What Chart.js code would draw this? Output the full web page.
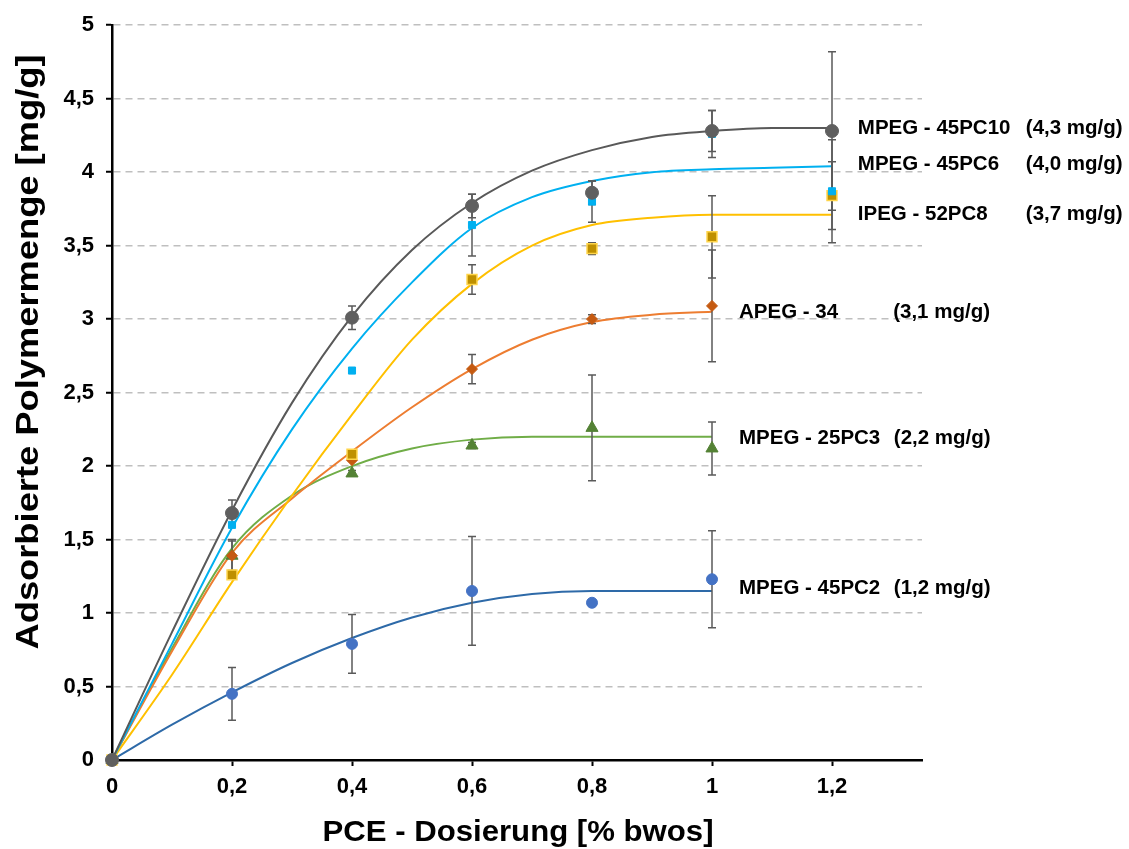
<!DOCTYPE html>
<html>
<head>
<meta charset="utf-8">
<script src="https://cdn.jsdelivr.net/npm/chart.js@4.4.0/dist/chart.umd.min.js"></script>
<style>
  html, body { margin: 0; padding: 0; background: #fff; }
</style>
</head>
<body>
<canvas id="chart" width="1129" height="849"></canvas>
<script>
// Dosierung der Messpunkte [% bwos]
const dosage = [0, 0.2, 0.4, 0.6, 0.8, 1.0, 1.2];
const dosageShort = [0, 0.2, 0.4, 0.6, 0.8, 1.0];
// Stuetzstellen der Ausgleichskurven
const curveX = [0, 0.1, 0.2, 0.3, 0.4, 0.5, 0.6, 0.7, 0.8, 0.9, 1.0, 1.1, 1.2];
const curveXShort = [0, 0.1, 0.2, 0.3, 0.4, 0.5, 0.6, 0.7, 0.8, 0.9, 1.0];

// Messwerte und Standardabweichung [mg/g]
const mpeg45pc10 = [0, 1.68, 3.01, 3.77, 3.86, 4.28, 4.28];
const mpeg45pc10Err = [0, 0.09, 0.08, 0.08, 0.08, 0.14, 0.54];
const mpeg45pc6 = [0, 1.60, 2.65, 3.64, 3.80, 4.26, 3.87];
const mpeg45pc6Err = [0, 0, 0, 0.21, 0.14, 0.16, 0.35];
const ipeg52pc8 = [0, 1.26, 2.08, 3.27, 3.48, 3.56, 3.84];
const ipeg52pc8Err = [0, 0, 0.02, 0.10, 0.04, 0.28, 0.23];
const apeg34 = [0, 1.39, 2.04, 2.66, 3.00, 3.09];
const apeg34Err = [0, 0.10, 0, 0.10, 0.03, 0.38];
const mpeg25pc3 = [0, 1.39, 1.95, 2.14, 2.26, 2.12];
const mpeg25pc3Err = [0, 0.11, 0.02, 0.02, 0.36, 0.18];
const mpeg45pc2 = [0, 0.45, 0.79, 1.15, 1.07, 1.23];
const mpeg45pc2Err = [0, 0.18, 0.20, 0.37, 0, 0.33];

// Ausgleichskurven
const fit45pc10 = [0, 0.87, 1.70, 2.43, 3.02, 3.47, 3.79, 4.01, 4.15, 4.24, 4.28, 4.30, 4.30];
const fit45pc6 = [0, 0.79, 1.58, 2.25, 2.80, 3.25, 3.62, 3.83, 3.94, 4.00, 4.02, 4.03, 4.04];
const fit52pc8 = [0, 0.58, 1.21, 1.80, 2.35, 2.86, 3.24, 3.50, 3.64, 3.69, 3.71, 3.71, 3.71];
const fitApeg34 = [0, 0.74, 1.41, 1.78, 2.10, 2.40, 2.66, 2.86, 2.98, 3.03, 3.05];
const fit25pc3 = [0, 0.76, 1.44, 1.80, 2.00, 2.12, 2.18, 2.20, 2.20, 2.20, 2.20];
const fit45pc2 = [0, 0.24, 0.46, 0.66, 0.83, 0.97, 1.07, 1.13, 1.15, 1.15, 1.15];

const xTickLabels = ['0', '0,2', '0,4', '0,6', '0,8', '1', '1,2'];
const yTickLabels = ['0', '0,5', '1', '1,5', '2', '2,5', '3', '3,5', '4', '4,5', '5'];

const seriesNames = ['MPEG - 45PC10', 'MPEG - 45PC6', 'IPEG - 52PC8', 'APEG - 34', 'MPEG - 25PC3', 'MPEG - 45PC2'];
const seriesAmounts = ['(4,3 mg/g)', '(4,0 mg/g)', '(3,7 mg/g)', '(3,1 mg/g)', '(2,2 mg/g)', '(1,2 mg/g)'];

const FONT = '"Liberation Sans", Arial, sans-serif';

const pts = (xs, ys) => ys.map((v, i) => ({ x: xs[i], y: v }));

function markerSet(label, ys, errs, xs, style) {
  return {
    type: 'scatter', label, data: pts(xs, ys), errors: errs, order: 1, clip: false,
    showLine: false, ...style
  };
}
function curveSet(label, ys, xs, color) {
  return {
    type: 'line', label, data: pts(xs, ys), order: 2, borderColor: color, borderWidth: 2,
    pointRadius: 0, cubicInterpolationMode: 'monotone', fill: false
  };
}

const datasets = [
  markerSet('MPEG - 45PC10', mpeg45pc10, mpeg45pc10Err, dosage,
    { pointStyle: 'circle', pointRadius: 6.5, backgroundColor: '#5f5f5f', borderColor: '#5f5f5f' }),
  markerSet('MPEG - 45PC6', mpeg45pc6, mpeg45pc6Err, dosage,
    { pointStyle: 'rect', pointRadius: 5, backgroundColor: '#00b0f0', borderColor: '#00b0f0' }),
  markerSet('IPEG - 52PC8', ipeg52pc8, ipeg52pc8Err, dosage,
    { pointStyle: 'rect', pointRadius: 7, backgroundColor: '#bf9000', borderColor: '#ffd54a', borderWidth: 1.5 }),
  markerSet('APEG - 34', apeg34, apeg34Err, dosageShort,
    { pointStyle: 'rectRot', pointRadius: 5.5, backgroundColor: '#c55a11', borderColor: '#c55a11' }),
  markerSet('MPEG - 25PC3', mpeg25pc3, mpeg25pc3Err, dosageShort,
    { pointStyle: 'triangle', pointRadius: 7, backgroundColor: '#548235', borderColor: '#548235' }),
  markerSet('MPEG - 45PC2', mpeg45pc2, mpeg45pc2Err, dosageShort,
    { pointStyle: 'circle', pointRadius: 5.5, backgroundColor: '#4472c4', borderColor: '#4472c4' }),
  curveSet('Fit 45PC10', fit45pc10, curveX, '#595959'),
  curveSet('Fit 45PC6', fit45pc6, curveX, '#00b0f0'),
  curveSet('Fit 52PC8', fit52pc8, curveX, '#ffc000'),
  curveSet('Fit APEG34', fitApeg34, curveXShort, '#ed7d31'),
  curveSet('Fit 25PC3', fit25pc3, curveXShort, '#70ad47'),
  curveSet('Fit 45PC2', fit45pc2, curveXShort, '#2e6aa8')
];

// Position der Beschriftungen (Datenkoordinaten)
const labelPos = [
  { x: 1.243, ax: 1.523, y: 4.30 },
  { x: 1.243, ax: 1.523, y: 4.05 },
  { x: 1.243, ax: 1.523, y: 3.71 },
  { x: 1.045, ax: 1.302, y: 3.045 },
  { x: 1.045, ax: 1.303, y: 2.19 },
  { x: 1.045, ax: 1.303, y: 1.165 }
];

// Fehlerbalken: nach den Kurven, vor den Markern zeichnen
let errorsDrawn = false;
const errorBars = {
  id: 'errorBars',
  beforeDatasetsDraw() { errorsDrawn = false; },
  beforeDatasetDraw(chart, args) {
    const ds = chart.data.datasets[args.index];
    if (errorsDrawn || !ds.errors) return;
    errorsDrawn = true;
    const { ctx, scales: { x, y } } = chart;
    ctx.save();
    ctx.strokeStyle = '#5a5a5a';
    ctx.lineWidth = 1.5;
    chart.data.datasets.forEach(set => {
      if (!set.errors) return;
      set.data.forEach((p, i) => {
        const e = set.errors[i];
        if (!e) return;
        const px = x.getPixelForValue(p.x);
        const top = y.getPixelForValue(p.y + e);
        const bot = y.getPixelForValue(p.y - e);
        ctx.beginPath();
        ctx.moveTo(px, top); ctx.lineTo(px, bot);
        ctx.moveTo(px - 4, top); ctx.lineTo(px + 4, top);
        ctx.moveTo(px - 4, bot); ctx.lineTo(px + 4, bot);
        ctx.stroke();
      });
    });
    ctx.restore();
  }
};

// gestreckter Text wie in der Vorlage
function stretchedText(ctx, text, cx, cy, width) {
  const w = ctx.measureText(text).width;
  ctx.save();
  ctx.translate(cx, cy);
  ctx.scale(width / w, 1);
  ctx.fillText(text, 0, 0);
  ctx.restore();
}

const textPlugin = {
  id: 'texts',
  afterDraw(chart) {
    const { ctx, scales: { x, y } } = chart;
    ctx.save();
    ctx.fillStyle = '#000';
    ctx.textBaseline = 'middle';
    ctx.textAlign = 'left';
    ctx.font = 'bold 20.5px ' + FONT;
    seriesNames.forEach((name, i) => {
      const p = labelPos[i];
      const py = y.getPixelForValue(p.y);
      ctx.fillText(name, x.getPixelForValue(p.x), py);
      ctx.fillText(seriesAmounts[i], x.getPixelForValue(p.ax), py);
    });
    // Achsentitel
    ctx.textAlign = 'center';
    ctx.font = 'bold 30px ' + FONT;
    stretchedText(ctx, 'PCE - Dosierung [% bwos]', 518, 833, 391);
    ctx.translate(29, 352);
    ctx.rotate(-Math.PI / 2);
    ctx.font = 'bold 32px ' + FONT;
    stretchedText(ctx, 'Adsorbierte Polymermenge [mg/g]', 0, 0, 595);
    ctx.restore();
  }
};

const tickFont = { family: FONT, size: 22, weight: 'bold' };

new Chart(document.getElementById('chart'), {
  type: 'scatter',
  data: { datasets },
  options: {
    responsive: false,
    animation: false,
    layout: { padding: { left: 0, top: 21, right: 207, bottom: 0 } },
    plugins: { legend: { display: false }, tooltip: { enabled: false } },
    scales: {
      x: {
        type: 'linear', min: 0, max: 1.35,
        afterFit: s => { s.height = 89; },
        ticks: {
          stepSize: 0.2, includeBounds: false, color: '#000', font: tickFont, padding: 8, maxRotation: 0,
          callback: (v, i) => xTickLabels[i]
        },
        grid: { drawOnChartArea: false, tickLength: 6, tickColor: '#000', tickWidth: 2 },
        border: { color: '#000', width: 2.5 }
      },
      y: {
        type: 'linear', min: 0, max: 5,
        afterFit: s => { s.width = 112; },
        ticks: {
          stepSize: 0.5, color: '#000', font: tickFont, padding: 12,
          callback: (v, i) => yTickLabels[i]
        },
        grid: {
          color: ctx => ctx.tick && ctx.tick.value === 0 ? 'rgba(0,0,0,0)' : '#bfbfbf',
          lineWidth: 1.5, tickLength: 6, tickColor: '#000', tickWidth: 2
        },
        border: { color: '#000', width: 2.5, dash: [7, 5] }
      }
    }
  },
  plugins: [errorBars, textPlugin]
});
</script>
</body>
</html>
